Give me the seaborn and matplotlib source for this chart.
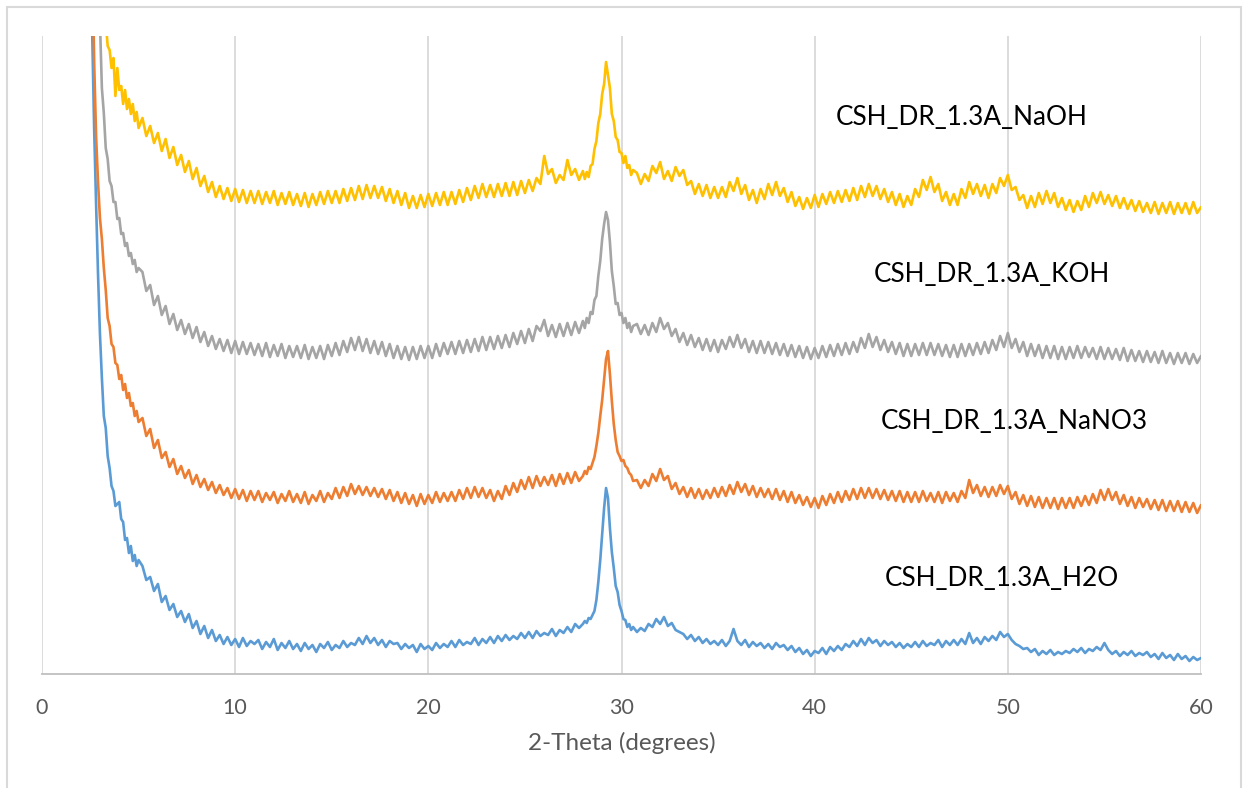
import numpy as np
import pandas as pd
import seaborn as sns
import matplotlib
matplotlib.use("Agg")
import matplotlib.pyplot as plt
from matplotlib.patches import Rectangle

# ---------------- data (intensity, arbitrary units, offset stacked) ----------------
# 2-theta scan grid: fine steps near the low-angle rise and the 29.3 deg peak
two_theta = np.round(np.concatenate([
    np.arange(25, 51) / 10,        # 2.5 .. 5.0  step 0.1
    np.arange(26, 140) * 0.2,      # 5.2 .. 27.8 step 0.2
    np.arange(280, 307) / 10,      # 28.0 .. 30.6 step 0.1
    np.arange(154, 301) * 0.2,     # 30.8 .. 60.0 step 0.2
]), 2)

h2o = [
    760, 640, 545, 470, 400, 340, 296, 258, 246, 218, 206, 188, 183, 168, 170, 172, 155, 152, 134, 136, 121, 128, 113, 119, 108, 114,
    108, 94, 97, 83, 90, 72, 78, 64, 70, 57,
    63, 52, 60, 46, 53, 40, 48, 36, 44, 33,
    39, 30, 37, 29, 35, 27, 36, 28, 33, 30,
    34, 25, 32, 27, 35, 24, 31, 26, 33, 25,
    30, 23, 31, 25, 29, 22, 30, 26, 32, 24,
    29, 26, 33, 27, 31, 29, 36, 30, 38, 31,
    36, 29, 34, 27, 33, 30, 31, 25, 30, 26,
    29, 22, 30, 25, 28, 24, 31, 26, 30, 27,
    33, 27, 34, 29, 32, 30, 36, 29, 35, 31,
    37, 31, 38, 33, 39, 34, 38, 35, 41, 36,
    42, 36, 43, 38, 41, 39, 45, 38, 44, 41,
    47, 42, 50, 46,
    50, 53, 51, 56, 55, 59, 63, 74, 92, 114, 140, 166, 186, 176, 146, 122, 106, 88, 82, 69, 63, 55, 54, 47, 50, 44, 47,
    42, 46,
    43, 50, 47, 55, 50, 57, 48, 51, 44, 42,
    40, 35, 39, 33, 37, 31, 35, 30, 33, 29,
    34, 28, 33, 45, 33, 29, 34, 27, 32, 28,
    31, 26, 30, 25, 31, 27, 29, 24, 28, 22,
    26, 20, 24, 18, 23, 21, 26, 20, 27, 23,
    28, 24, 30, 27, 33, 28, 35, 29, 36, 31,
    34, 28, 33, 29, 32, 27, 31, 26, 30, 27,
    32, 27, 33, 28, 31, 29, 34, 27, 33, 29,
    34, 29, 35, 30, 41, 31, 36, 30, 37, 33,
    38, 34, 42, 37, 40, 34, 30, 28, 25, 26,
    22, 25, 19, 23, 20, 24, 19, 22, 20, 23,
    21, 25, 22, 26, 21, 25, 23, 27, 24, 31,
    24, 20, 23, 18, 22, 19, 23, 18, 21, 19,
    22, 17, 20, 15, 21, 16, 19, 14, 20, 15,
    18, 13, 17, 14, 16,
]

nano3 = [
    900, 720, 612, 538, 492, 456, 435, 406, 384, 356, 348, 330, 327, 311, 309, 295, 299, 284, 290, 276, 281, 268, 271, 258, 263, 252,
    256, 238, 245, 226, 234, 216, 222, 207, 215, 200,
    208, 196, 204, 190, 199, 187, 195, 184, 192, 181,
    189, 179, 186, 176, 185, 175, 184, 173, 183, 174,
    183, 172, 181, 174, 182, 171, 180, 173, 183, 172,
    180, 171, 182, 170, 179, 173, 183, 172, 181, 175,
    186, 176, 187, 178, 190, 180, 188, 179, 187, 178,
    186, 177, 185, 175, 184, 173, 182, 171, 181, 170,
    179, 168, 180, 170, 179, 171, 182, 172, 181, 173,
    182, 173, 184, 175, 186, 176, 187, 177, 186, 176,
    184, 173, 183, 175, 188, 179, 191, 182, 194, 185,
    197, 186, 198, 188, 197, 189, 199, 188, 200, 190,
    201, 191, 202, 193,
    198, 203, 200, 207, 205, 211, 217, 228, 241, 258, 274, 295, 315, 323, 300, 273, 250, 234, 222, 218, 213, 214, 208, 206, 201, 199, 193,
    194, 186,
    194, 188, 200, 193, 205, 194, 198, 185, 191, 180,
    187, 177, 186, 176, 185, 175, 184, 176, 186, 177,
    187, 178, 189, 180, 192, 182, 190, 179, 188, 177,
    186, 177, 185, 175, 185, 174, 183, 172, 182, 171,
    179, 169, 177, 167, 176, 166, 178, 169, 180, 171,
    182, 172, 183, 174, 185, 175, 186, 176, 186, 176,
    185, 175, 184, 174, 183, 173, 183, 172, 182, 172,
    182, 172, 183, 173, 181, 172, 182, 171, 182, 173,
    181, 172, 183, 176, 194, 181, 189, 178, 187, 177,
    187, 178, 189, 180, 188, 175, 182, 170, 179, 168,
    178, 167, 177, 166, 176, 166, 176, 165, 176, 166,
    176, 166, 177, 168, 178, 169, 180, 171, 184, 174,
    185, 174, 182, 170, 179, 168, 177, 166, 176, 167,
    175, 165, 174, 164, 174, 163, 173, 163, 173, 162,
    172, 162, 171, 161, 169,
]

koh = [
    1000, 900, 800, 733, 688, 652, 586, 561, 526, 515, 493, 488, 472, 472, 455, 456, 440, 441, 428, 431, 418, 421, 410, 414, 402, 406,
    402, 383, 389, 369, 378, 359, 368, 350, 360, 344,
    354, 340, 350, 336, 347, 332, 342, 328, 338, 325,
    335, 323, 334, 321, 333, 320, 332, 320, 331, 319,
    330, 318, 331, 317, 329, 318, 330, 316, 328, 317,
    328, 316, 329, 315, 327, 316, 328, 315, 329, 318,
    331, 319, 333, 322, 336, 324, 337, 323, 335, 321,
    333, 320, 332, 318, 330, 316, 328, 315, 327, 314,
    327, 315, 328, 316, 328, 316, 330, 318, 331, 320,
    332, 320, 333, 321, 334, 322, 335, 323, 337, 324,
    337, 325, 338, 326, 339, 327, 341, 330, 343, 331,
    345, 333, 348, 343, 354, 338, 349, 337, 350, 338,
    351, 339, 352, 341,
    353, 346, 356, 351, 362, 360, 374, 378, 398, 413, 435, 450, 462, 454, 432, 403, 388, 370, 371, 359, 361, 351, 356, 346, 351, 342, 348,
    350, 340,
    349, 339, 351, 342, 356, 345, 351, 338, 345, 332,
    341, 329, 339, 327, 336, 324, 335, 323, 334, 322,
    334, 325, 337, 327, 339, 326, 335, 322, 333, 321,
    333, 321, 332, 320, 331, 319, 330, 318, 329, 317,
    328, 316, 327, 315, 326, 316, 328, 317, 329, 318,
    330, 319, 331, 320, 332, 322, 336, 326, 340, 327,
    337, 324, 334, 322, 332, 320, 331, 318, 330, 318,
    330, 319, 331, 319, 331, 319, 330, 318, 329, 317,
    329, 317, 330, 318, 330, 319, 331, 320, 332, 321,
    334, 324, 338, 327, 341, 326, 335, 322, 332, 318,
    330, 318, 329, 316, 328, 316, 328, 315, 327, 315,
    327, 316, 328, 316, 327, 317, 326, 315, 327, 315,
    326, 315, 325, 314, 326, 313, 324, 313, 323, 312,
    323, 312, 322, 311, 323, 311, 321, 310, 321, 311,
    321, 310, 320, 311, 318,
]

naoh = [
    1200, 1100, 1000, 950, 900, 850, 780, 700, 652, 628, 624, 606, 616, 578, 606, 584, 588, 570, 584, 565, 575, 560, 570, 553, 562, 546,
    556, 538, 548, 531, 541, 523, 535, 516, 527, 509,
    519, 502, 513, 495, 506, 488, 498, 482, 492, 477,
    488, 475, 486, 473, 485, 472, 484, 471, 483, 471,
    483, 470, 482, 471, 483, 469, 481, 470, 482, 469,
    480, 468, 481, 467, 480, 469, 482, 470, 483, 471,
    483, 471, 485, 473, 486, 474, 488, 475, 489, 476,
    488, 476, 487, 473, 485, 471, 483, 469, 481, 466,
    478, 466, 479, 467, 480, 468, 481, 469, 482, 469,
    482, 470, 484, 472, 486, 474, 488, 476, 490, 477,
    489, 477, 490, 478, 491, 478, 492, 479, 493, 481,
    494, 483, 496, 490, 518, 500, 505, 491, 499, 494,
    514, 499, 505, 494,
    503, 495, 502, 497, 508, 510, 525, 533, 551, 560, 580, 590, 612, 599, 586, 560, 553, 537, 534, 522, 521, 511, 518, 506, 509, 499, 504,
    501, 490,
    500, 493, 508, 501, 512, 495, 503, 493, 507, 498,
    504, 489, 493, 480, 490, 478, 489, 476, 487, 476,
    487, 477, 492, 483, 496, 480, 489, 474, 484, 471,
    485, 475, 490, 479, 492, 478, 486, 472, 482, 468,
    477, 465, 476, 466, 479, 467, 480, 470, 482, 471,
    483, 472, 484, 473, 486, 474, 488, 477, 490, 478,
    488, 475, 485, 472, 482, 469, 480, 467, 478, 469,
    485, 477, 494, 484, 497, 482, 490, 473, 482, 469,
    480, 469, 485, 476, 492, 480, 490, 478, 489, 476,
    490, 481, 496, 488, 499, 484, 487, 474, 479, 466,
    478, 467, 481, 470, 483, 471, 481, 467, 476, 464,
    474, 462, 473, 464, 478, 467, 481, 471, 482, 470,
    479, 468, 478, 466, 476, 465, 474, 463, 473, 462,
    471, 461, 472, 460, 471, 461, 472, 460, 471, 461,
    471, 460, 472, 461, 467,
]

series_names = ["CSH_DR_1.3A_H2O", "CSH_DR_1.3A_NaNO3", "CSH_DR_1.3A_KOH", "CSH_DR_1.3A_NaOH"]
series_values = [h2o, nano3, koh, naoh]
series_colors = ["#5B9BD5", "#ED7D31", "#A5A5A5", "#FFC000"]
x_ticks = [0, 10, 20, 30, 40, 50, 60]
x_label = "2-Theta (degrees)"

for name, vals in zip(series_names, series_values):
    if len(vals) != len(two_theta):
        raise SystemExit(f"{name}: {len(vals)} values vs {len(two_theta)} grid points")

df = pd.concat([
    pd.DataFrame({"two_theta": two_theta, "intensity": vals, "sample": name})
    for name, vals in zip(series_names, series_values)
], ignore_index=True)

# ---------------- plot ----------------
sns.set_style("white")
plt.rcParams["font.family"] = ["Lato", "DejaVu Sans"]

W, H = 1244, 788
fig = plt.figure(figsize=(W / 100, H / 100), dpi=100)
ax = fig.add_axes([42 / W, 1 - 674 / H, (1201 - 42) / W, (674 - 36) / H])

sns.lineplot(data=df, x="two_theta", y="intensity", hue="sample",
             hue_order=series_names, palette=series_colors,
             sort=False, estimator=None, linewidth=1.9, legend=False, ax=ax)

ax.set_xlim(0, 60)
ax.set_ylim(0, 638)
ax.set_yticks([])
ax.set_xticks(x_ticks)
ax.set_xticks(np.arange(0, 61, 2), minor=True)
ax.grid(axis="x", which="major", color="#D9D9D9", linewidth=1.3)
ax.set_axisbelow(True)
for s in ["top", "right", "left"]:
    ax.spines[s].set_visible(False)
ax.spines["bottom"].set_color("#BFBFBF")
ax.spines["bottom"].set_linewidth(1.3)
ax.tick_params(axis="x", which="both", direction="in", length=5, width=1.2,
               color="#BFBFBF", labelcolor="#595959", labelsize=15.5, pad=17)
ax.set_xlabel(x_label, fontsize=17.5, color="#595959", labelpad=10)
ax.set_ylabel("")

# series labels
label_pos = {
    "CSH_DR_1.3A_NaOH": (47.62, 556),
    "CSH_DR_1.3A_KOH": (49.17, 399),
    "CSH_DR_1.3A_NaNO3": (50.31, 252),
    "CSH_DR_1.3A_H2O": (49.69, 96),
}
for name in series_names:
    lx, ly = label_pos[name]
    ax.text(lx, ly, name, ha="center", va="center", fontsize=18.8, color="#000000")

# chart border
fig.patches.append(Rectangle((7 / W, -0.05), (1241 - 7) / W, 1 - 7 / H + 0.05,
                             transform=fig.transFigure, fill=False,
                             edgecolor="#D9D9D9", linewidth=1.5))

fig.savefig("out.png", dpi=100)
